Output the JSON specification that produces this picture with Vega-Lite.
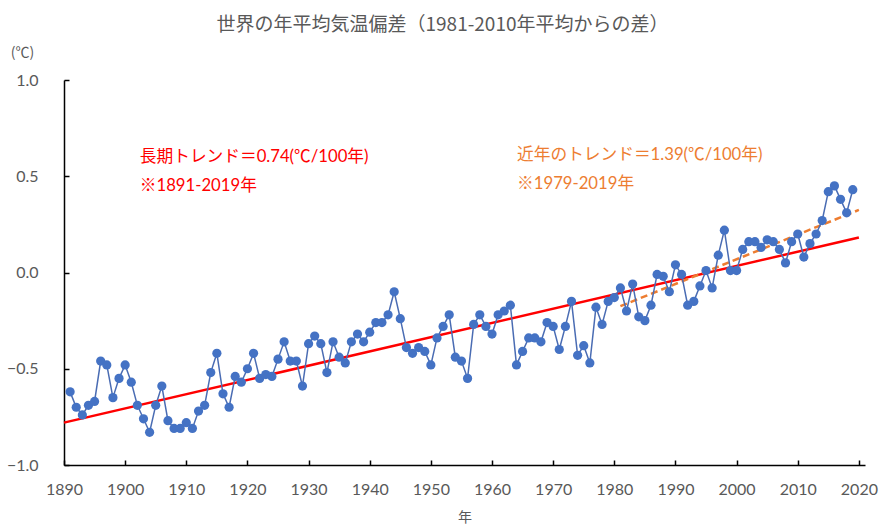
{
  "$schema": "https://vega.github.io/schema/vega-lite/v6.json",
  "autosize": {"type": "none"},
  "padding": {"left": 64, "top": 80, "right": 18, "bottom": 59},
  "width": 801,
  "height": 385,
  "background": "white",
  "title": {
    "text": "世界の年平均気温偏差（1981-2010年平均からの差）",
    "font": "Noto Sans CJK JP",
    "fontSize": 19,
    "fontWeight": "normal",
    "color": "#595959",
    "anchor": "middle",
    "offset": 10,
    "dx": -22
  },
  "config": {
    "view": {"stroke": null},
    "axis": {
      "grid": false,
      "domainColor": "#000000",
      "domainWidth": 1.5,
      "tickColor": "#000000",
      "tickWidth": 1.5,
      "labelColor": "#595959",
      "labelFont": "Lato",
      "labelFontSize": 16,
      "labelFlush": false,
      "titleColor": "#595959",
      "titleFont": "Noto Sans CJK JP",
      "titleFontSize": 14,
      "titleFontWeight": "normal"
    }
  },
  "datasets": {
    "temp": [
      {"year": 1891, "anomaly": -0.62}, {"year": 1892, "anomaly": -0.70}, {"year": 1893, "anomaly": -0.74},
      {"year": 1894, "anomaly": -0.69}, {"year": 1895, "anomaly": -0.67}, {"year": 1896, "anomaly": -0.46},
      {"year": 1897, "anomaly": -0.48}, {"year": 1898, "anomaly": -0.65}, {"year": 1899, "anomaly": -0.55},
      {"year": 1900, "anomaly": -0.48}, {"year": 1901, "anomaly": -0.57}, {"year": 1902, "anomaly": -0.69},
      {"year": 1903, "anomaly": -0.76}, {"year": 1904, "anomaly": -0.83}, {"year": 1905, "anomaly": -0.69},
      {"year": 1906, "anomaly": -0.59}, {"year": 1907, "anomaly": -0.77}, {"year": 1908, "anomaly": -0.81},
      {"year": 1909, "anomaly": -0.81}, {"year": 1910, "anomaly": -0.78}, {"year": 1911, "anomaly": -0.81},
      {"year": 1912, "anomaly": -0.72}, {"year": 1913, "anomaly": -0.69}, {"year": 1914, "anomaly": -0.52},
      {"year": 1915, "anomaly": -0.42}, {"year": 1916, "anomaly": -0.63}, {"year": 1917, "anomaly": -0.70},
      {"year": 1918, "anomaly": -0.54}, {"year": 1919, "anomaly": -0.57}, {"year": 1920, "anomaly": -0.50},
      {"year": 1921, "anomaly": -0.42}, {"year": 1922, "anomaly": -0.55}, {"year": 1923, "anomaly": -0.53},
      {"year": 1924, "anomaly": -0.54}, {"year": 1925, "anomaly": -0.45}, {"year": 1926, "anomaly": -0.36},
      {"year": 1927, "anomaly": -0.46}, {"year": 1928, "anomaly": -0.46}, {"year": 1929, "anomaly": -0.59},
      {"year": 1930, "anomaly": -0.37}, {"year": 1931, "anomaly": -0.33}, {"year": 1932, "anomaly": -0.37},
      {"year": 1933, "anomaly": -0.52}, {"year": 1934, "anomaly": -0.36}, {"year": 1935, "anomaly": -0.44},
      {"year": 1936, "anomaly": -0.47}, {"year": 1937, "anomaly": -0.36}, {"year": 1938, "anomaly": -0.32},
      {"year": 1939, "anomaly": -0.36}, {"year": 1940, "anomaly": -0.31}, {"year": 1941, "anomaly": -0.26},
      {"year": 1942, "anomaly": -0.26}, {"year": 1943, "anomaly": -0.22}, {"year": 1944, "anomaly": -0.10},
      {"year": 1945, "anomaly": -0.24}, {"year": 1946, "anomaly": -0.39}, {"year": 1947, "anomaly": -0.42},
      {"year": 1948, "anomaly": -0.39}, {"year": 1949, "anomaly": -0.41}, {"year": 1950, "anomaly": -0.48},
      {"year": 1951, "anomaly": -0.34}, {"year": 1952, "anomaly": -0.28}, {"year": 1953, "anomaly": -0.22},
      {"year": 1954, "anomaly": -0.44}, {"year": 1955, "anomaly": -0.46}, {"year": 1956, "anomaly": -0.55},
      {"year": 1957, "anomaly": -0.27}, {"year": 1958, "anomaly": -0.22}, {"year": 1959, "anomaly": -0.28},
      {"year": 1960, "anomaly": -0.32}, {"year": 1961, "anomaly": -0.22}, {"year": 1962, "anomaly": -0.20},
      {"year": 1963, "anomaly": -0.17}, {"year": 1964, "anomaly": -0.48}, {"year": 1965, "anomaly": -0.41},
      {"year": 1966, "anomaly": -0.34}, {"year": 1967, "anomaly": -0.34}, {"year": 1968, "anomaly": -0.36},
      {"year": 1969, "anomaly": -0.26}, {"year": 1970, "anomaly": -0.28}, {"year": 1971, "anomaly": -0.40},
      {"year": 1972, "anomaly": -0.28}, {"year": 1973, "anomaly": -0.15}, {"year": 1974, "anomaly": -0.43},
      {"year": 1975, "anomaly": -0.38}, {"year": 1976, "anomaly": -0.47}, {"year": 1977, "anomaly": -0.18},
      {"year": 1978, "anomaly": -0.27}, {"year": 1979, "anomaly": -0.15}, {"year": 1980, "anomaly": -0.13},
      {"year": 1981, "anomaly": -0.08}, {"year": 1982, "anomaly": -0.20}, {"year": 1983, "anomaly": -0.06},
      {"year": 1984, "anomaly": -0.23}, {"year": 1985, "anomaly": -0.25}, {"year": 1986, "anomaly": -0.17},
      {"year": 1987, "anomaly": -0.01}, {"year": 1988, "anomaly": -0.02}, {"year": 1989, "anomaly": -0.10},
      {"year": 1990, "anomaly": 0.04}, {"year": 1991, "anomaly": -0.01}, {"year": 1992, "anomaly": -0.17},
      {"year": 1993, "anomaly": -0.15}, {"year": 1994, "anomaly": -0.07}, {"year": 1995, "anomaly": 0.01},
      {"year": 1996, "anomaly": -0.08}, {"year": 1997, "anomaly": 0.09}, {"year": 1998, "anomaly": 0.22},
      {"year": 1999, "anomaly": 0.01}, {"year": 2000, "anomaly": 0.01}, {"year": 2001, "anomaly": 0.12},
      {"year": 2002, "anomaly": 0.16}, {"year": 2003, "anomaly": 0.16}, {"year": 2004, "anomaly": 0.13},
      {"year": 2005, "anomaly": 0.17}, {"year": 2006, "anomaly": 0.16}, {"year": 2007, "anomaly": 0.12},
      {"year": 2008, "anomaly": 0.05}, {"year": 2009, "anomaly": 0.16}, {"year": 2010, "anomaly": 0.20},
      {"year": 2011, "anomaly": 0.08}, {"year": 2012, "anomaly": 0.15}, {"year": 2013, "anomaly": 0.20},
      {"year": 2014, "anomaly": 0.27}, {"year": 2015, "anomaly": 0.42}, {"year": 2016, "anomaly": 0.45},
      {"year": 2017, "anomaly": 0.38}, {"year": 2018, "anomaly": 0.31}, {"year": 2019, "anomaly": 0.43}
    ],
    "longTrend": [
      {"year": 1890, "value": -0.78},
      {"year": 2020, "value": 0.182}
    ],
    "recentTrend": [
      {"year": 1981, "value": -0.175},
      {"year": 2020, "value": 0.325}
    ],
    "longNotes": [
      {"year": 1902.4, "value": 0.6, "label": "長期トレンド＝0.74(℃/100年)"},
      {"year": 1902.4, "value": 0.45, "label": "※1891-2019年"}
    ],
    "recentNotes": [
      {"year": 1964.1, "value": 0.61, "label": "近年のトレンド＝1.39(℃/100年)"},
      {"year": 1964.1, "value": 0.46, "label": "※1979-2019年"}
    ]
  },
  "encoding": {
    "x": {
      "field": "year",
      "type": "quantitative",
      "scale": {"domain": [1890, 2021], "nice": false, "zero": false},
      "axis": {
        "title": "年",
        "values": [1890, 1900, 1910, 1920, 1930, 1940, 1950, 1960, 1970, 1980, 1990, 2000, 2010, 2020],
        "format": "d",
        "tickSize": -5,
        "labelPadding": 21,
        "titleY": 52,
        "titleBaseline": "middle"
      }
    }
  },
  "layer": [
    {
      "data": {"name": "longTrend"},
      "mark": {"type": "line", "color": "#FF0000", "strokeWidth": 2.5},
      "encoding": {
        "y": {"field": "value", "type": "quantitative"}
      }
    },
    {
      "data": {"name": "recentTrend"},
      "mark": {"type": "line", "color": "#ED7D31", "strokeWidth": 2.5, "strokeDash": [7, 4]},
      "encoding": {
        "y": {"field": "value", "type": "quantitative"}
      }
    },
    {
      "data": {"name": "temp"},
      "mark": {"type": "line", "color": "#4a6cb3", "strokeWidth": 1.5},
      "encoding": {
        "y": {
          "field": "anomaly",
          "type": "quantitative",
          "scale": {"domain": [-1, 1], "nice": false},
          "axis": {
            "title": "(℃)",
            "values": [-1, -0.5, 0, 0.5, 1],
            "format": ".1f",
            "tickSize": -5,
            "labelPadding": 31,
            "titleAngle": 0,
            "titleAlign": "center",
            "titleBaseline": "middle",
            "titleX": -42,
            "titleY": -28
          }
        }
      }
    },
    {
      "data": {"name": "temp"},
      "mark": {"type": "point", "shape": "circle", "filled": true, "size": 85, "color": "#4472C4", "opacity": 1},
      "encoding": {
        "y": {"field": "anomaly", "type": "quantitative"}
      }
    },
    {
      "data": {"name": "longNotes"},
      "mark": {"type": "text", "align": "left", "baseline": "middle", "color": "#FF0000", "font": "Lato, Noto Sans CJK JP", "fontSize": 16.7},
      "encoding": {
        "y": {"field": "value", "type": "quantitative"},
        "text": {"field": "label"}
      }
    },
    {
      "data": {"name": "recentNotes"},
      "mark": {"type": "text", "align": "left", "baseline": "middle", "color": "#ED7D31", "font": "Lato, Noto Sans CJK JP", "fontSize": 16.7},
      "encoding": {
        "y": {"field": "value", "type": "quantitative"},
        "text": {"field": "label"}
      }
    }
  ]
}
